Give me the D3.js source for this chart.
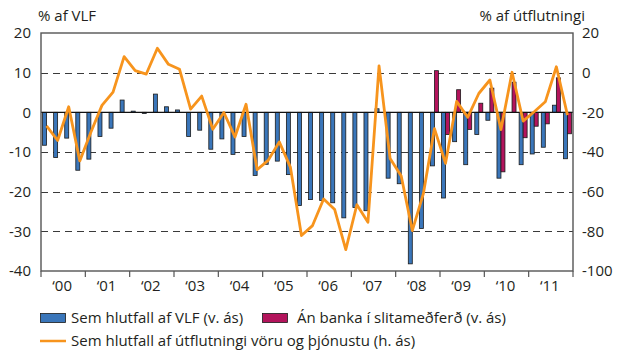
<!DOCTYPE html>
<html>
<head>
<meta charset="utf-8">
<script src="https://cdn.jsdelivr.net/npm/d3@7"></script>
<style>
  html, body { margin: 0; padding: 0; background: #fff; }
  svg { display: block; font-family: "Open Sans", sans-serif; }
</style>
</head>
<body>
<svg id="chart" width="617" height="351"></svg>
<script>
// Current account balance, quarterly 2000–2011
const years = ["00","01","02","03","04","05","06","07","08","09","10","11"];
const leftTicks = [20, 10, 0, -10, -20, -30, -40];
const rightTicks = [20, 0, -20, -40, -60, -80, -100];

// Sem hlutfall af VLF (v. ás)
const shareOfGDP = [
  -8.3, -11.4, -6.5, -14.6,   -11.8, -6.1, -4.0, 3.1,
   0.3, -0.3, 4.6, 1.4,        0.6, -6.1, -4.5, -9.3,
  -6.7, -10.6, -6.1, -15.9,   -13.1, -12.3, -15.7, -23.5,
  -22.0, -22.2, -22.8, -26.6, -24.0, -24.8, 0.9, -16.6,
  -18.0, -38.2, -29.3, -13.5, -21.6, -7.4, -13.2, -5.6,
  -2.0, -16.6, 0.0, -13.2,    -10.5, -8.8, 1.8, -11.7
];

// Án banka í slitameðferð (v. ás), from 2008 Q4
const exclBanks = [
  null, null, null, null, null, null, null, null,
  null, null, null, null, null, null, null, null,
  null, null, null, null, null, null, null, null,
  null, null, null, null, null, null, null, null,
  null, null, null, 10.5, -5.6, 5.7, -4.3, 2.3,
  6.1, -15.0, 7.6, -6.4,      -3.5, -2.9, 8.7, -5.4
];

// Sem hlutfall af útflutningi vöru og þjónustu (h. ás)
const shareOfExports = [
  -26.8, -34.2, -17.2, -44.5, -30.0, -16.5, -9.8, 8.1,
   1.0, -0.7, 12.3, 4.2,       1.7, -18.4, -11.8, -28.5,
  -20.1, -32.4, -15.9, -48.9, -44.2, -34.9, -47.6, -82.1,
  -77.1, -63.7, -69.0, -89.2, -66.6, -75.4, 3.4, -43.3,
  -52.1, -79.6, -61.0, -28.2, -45.7, -14.5, -22.5, -10.5,
  -3.7, -28.7, 0.2, -24.4,    -19.7, -14.7, 3.0, -21.4
];

const quarters = [];
years.forEach(y => { for (let q = 1; q <= 4; q++) quarters.push(y + "Q" + q); });

const svg = d3.select("#chart");
const plotLeft = 41, plotRight = 573, plotTop = 33, plotBottom = 271;
const fontSize = 15;
const textColor = "#231f20";

const x0 = d3.scaleBand().domain(quarters).range([plotLeft, plotRight]).padding(0);
const x1 = d3.scaleBand().domain(["gdp", "excl"]).range([0, x0.bandwidth()])
  .paddingInner(0).paddingOuter(0.39);
const xYear = d3.scaleBand().domain(years).range([plotLeft, plotRight]).padding(0);
const yL = d3.scaleLinear().domain([-40, 20]).range([plotBottom, plotTop]);
const yR = d3.scaleLinear().domain([-100, 20]).range([plotBottom, plotTop]);

// dashed gridlines
svg.append("g").selectAll("line")
  .data(leftTicks.filter(v => v !== 0 && v !== 20 && v !== -40))
  .join("line")
  .attr("x1", plotLeft).attr("x2", plotRight)
  .attr("y1", d => Math.round(yL(d)) + 0.5).attr("y2", d => Math.round(yL(d)) + 0.5)
  .attr("stroke", "#3a3a3a").attr("stroke-width", 1.1)
  .attr("stroke-dasharray", "7,5");

// bars: share of GDP
svg.append("g").selectAll("rect")
  .data(quarters.map((q, i) => ({ q, v: shareOfGDP[i] })))
  .join("rect")
  .attr("x", d => x0(d.q) + x1("gdp"))
  .attr("width", x1.bandwidth())
  .attr("y", d => yL(Math.max(0, d.v)))
  .attr("height", d => Math.abs(yL(d.v) - yL(0)))
  .attr("fill", "#3a76ba")
  .attr("stroke", "#1b1b1b").attr("stroke-width", 0.8);

// bars: excluding banks in winding-up
svg.append("g").selectAll("rect")
  .data(quarters.map((q, i) => ({ q, v: exclBanks[i] })).filter(d => d.v !== null))
  .join("rect")
  .attr("x", d => x0(d.q) + x1("excl"))
  .attr("width", x1.bandwidth())
  .attr("y", d => yL(Math.max(0, d.v)))
  .attr("height", d => Math.abs(yL(d.v) - yL(0)))
  .attr("fill", "#b3145c")
  .attr("stroke", "#1b1b1b").attr("stroke-width", 0.8);

// zero line
svg.append("line")
  .attr("x1", plotLeft).attr("x2", plotRight)
  .attr("y1", yL(0)).attr("y2", yL(0))
  .attr("stroke", "#111").attr("stroke-width", 1.2);

// line: share of exports (right axis)
const line = d3.line()
  .x((d, i) => x0(quarters[i]) + x0.bandwidth() / 2)
  .y(d => yR(d));
svg.append("path")
  .datum(shareOfExports)
  .attr("d", line)
  .attr("fill", "none")
  .attr("stroke", "#f7941d")
  .attr("stroke-width", 2.8)
  .attr("stroke-linejoin", "round");

// frame
svg.append("rect")
  .attr("x", plotLeft).attr("y", plotTop)
  .attr("width", plotRight - plotLeft).attr("height", plotBottom - plotTop)
  .attr("fill", "none").attr("stroke", "#555").attr("stroke-width", 1.4);

// year ticks on the bottom axis
svg.append("g").selectAll("line")
  .data(d3.range(years.length + 1))
  .join("line")
  .attr("x1", i => plotLeft + i * xYear.step()).attr("x2", i => plotLeft + i * xYear.step())
  .attr("y1", plotBottom).attr("y2", plotBottom + 6)
  .attr("stroke", "#555").attr("stroke-width", 1.2);

// year labels
svg.append("g").selectAll("text")
  .data(years)
  .join("text")
  .attr("x", d => xYear(d) + xYear.bandwidth() / 2 - 1)
  .attr("y", plotBottom + 20)
  .attr("text-anchor", "middle")
  .attr("font-size", fontSize).attr("fill", textColor)
  .text(d => "\u2018" + d);

// left axis labels
svg.append("g").selectAll("text")
  .data(leftTicks)
  .join("text")
  .attr("x", plotLeft - 10)
  .attr("y", d => yL(d))
  .attr("dy", "0.35em")
  .attr("text-anchor", "end")
  .attr("font-size", fontSize).attr("fill", textColor)
  .text(d => d);

// right axis labels
svg.append("g").selectAll("text")
  .data(rightTicks)
  .join("text")
  .attr("x", plotRight + 9)
  .attr("y", d => yR(d))
  .attr("dy", "0.35em")
  .attr("text-anchor", "start")
  .attr("font-size", fontSize).attr("fill", textColor)
  .text(d => d);

// axis titles
svg.append("text")
  .attr("x", 38).attr("y", 21)
  .attr("font-size", fontSize).attr("fill", textColor)
  .text("% af VLF");
svg.append("text")
  .attr("x", 585).attr("y", 21)
  .attr("text-anchor", "end")
  .attr("font-size", fontSize).attr("fill", textColor)
  .text("% af útflutningi");

// legend
const legend = svg.append("g");
legend.append("rect")
  .attr("x", 40.5).attr("y", 313.5).attr("width", 25).attr("height", 9)
  .attr("fill", "#3a76ba").attr("stroke", "#1b1b1b").attr("stroke-width", 0.8);
legend.append("text")
  .attr("x", 71).attr("y", 318).attr("dy", "0.35em")
  .attr("font-size", fontSize).attr("fill", textColor)
  .text("Sem hlutfall af VLF (v. ás)");
legend.append("rect")
  .attr("x", 262.5).attr("y", 313.5).attr("width", 25).attr("height", 9)
  .attr("fill", "#b3145c").attr("stroke", "#1b1b1b").attr("stroke-width", 0.8);
legend.append("text")
  .attr("x", 297).attr("y", 318).attr("dy", "0.35em")
  .attr("font-size", fontSize).attr("fill", textColor)
  .text("Án banka í slitameðferð (v. ás)");
legend.append("line")
  .attr("x1", 40).attr("x2", 66).attr("y1", 341).attr("y2", 341)
  .attr("stroke", "#f7941d").attr("stroke-width", 2.5);
legend.append("text")
  .attr("x", 71).attr("y", 341).attr("dy", "0.35em")
  .attr("font-size", fontSize).attr("fill", textColor)
  .text("Sem hlutfall af útflutningi vöru og þjónustu (h. ás)");
</script>
</body>
</html>
